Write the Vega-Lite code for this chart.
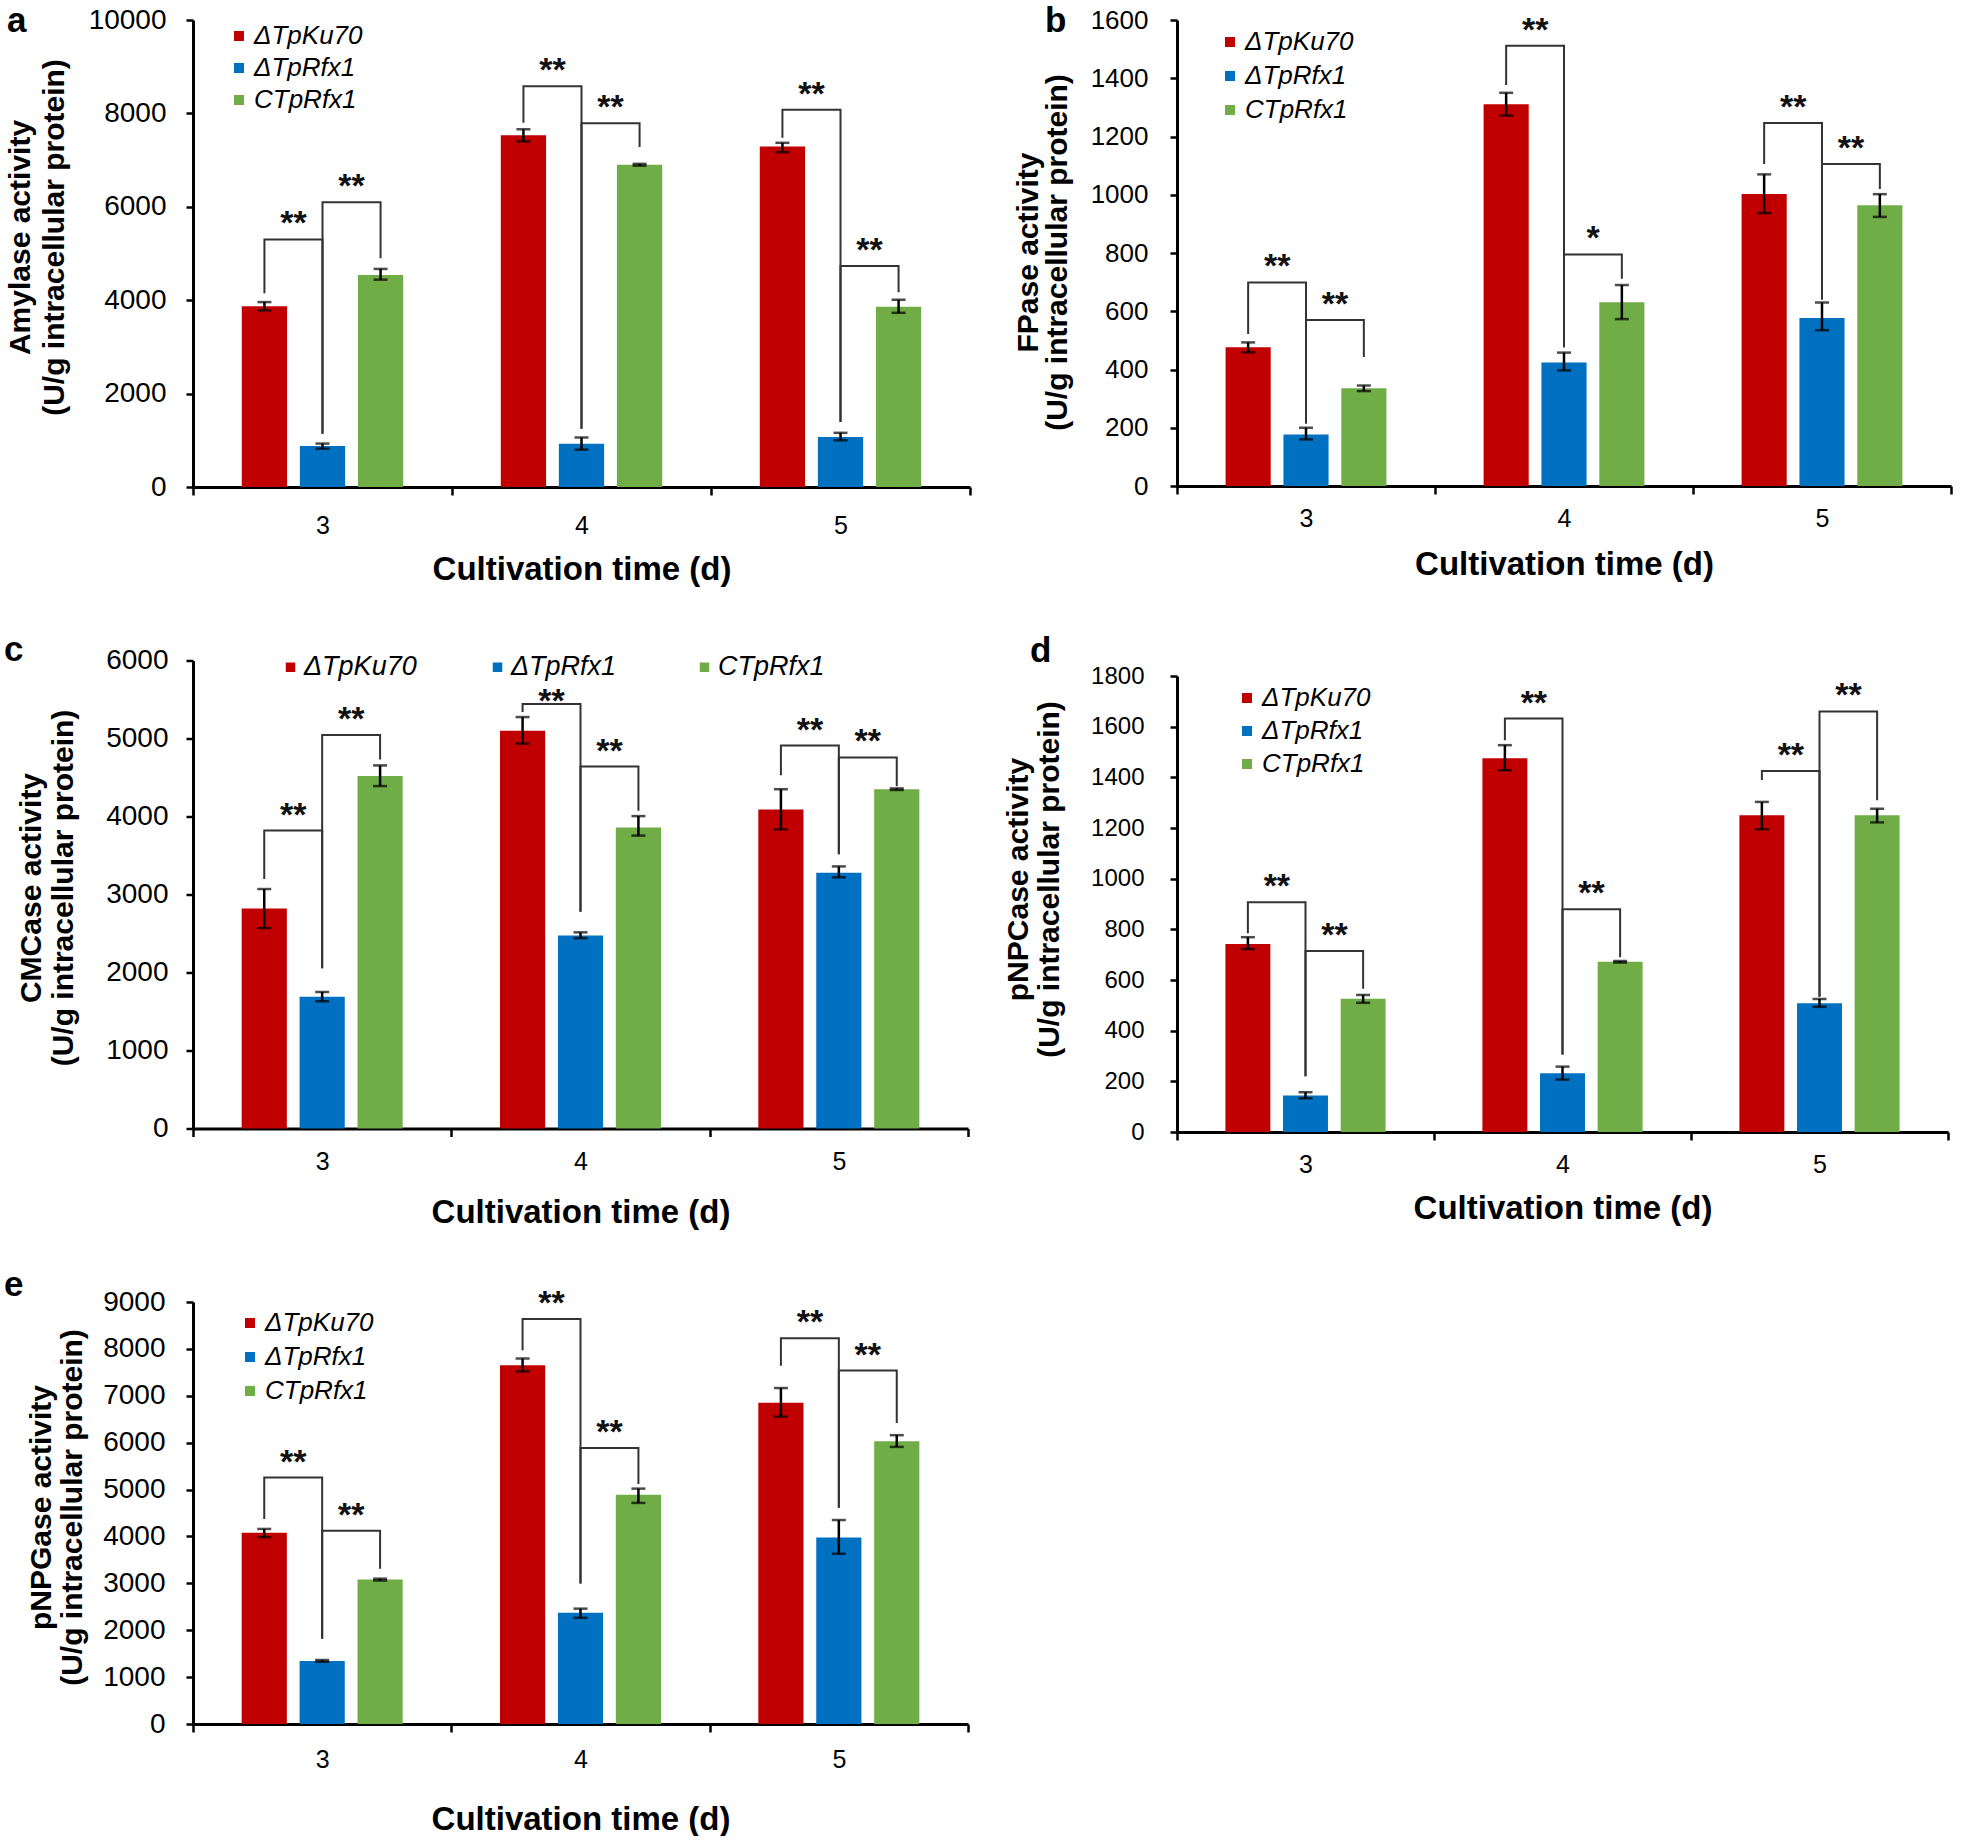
{
  "$schema": "https://vega.github.io/schema/vega-lite/v6.json",
  "padding": {"left": 4, "top": 4, "right": 0, "bottom": 0},
  "background": "white",
  "config": {"view": {"stroke": null}, "font": "Liberation Sans"},
  "datasets": {
    "bars": [
      {"p":"a","day":"3","s":"ΔTpKu70","v":3870,"lo":3780,"hi":3960},
      {"p":"a","day":"3","s":"ΔTpRfx1","v":880,"lo":820,"hi":930},
      {"p":"a","day":"3","s":"CTpRfx1","v":4540,"lo":4440,"hi":4670},
      {"p":"a","day":"4","s":"ΔTpKu70","v":7530,"lo":7400,"hi":7660},
      {"p":"a","day":"4","s":"ΔTpRfx1","v":925,"lo":800,"hi":1060},
      {"p":"a","day":"4","s":"CTpRfx1","v":6900,"lo":6880,"hi":6920},
      {"p":"a","day":"5","s":"ΔTpKu70","v":7290,"lo":7170,"hi":7370},
      {"p":"a","day":"5","s":"ΔTpRfx1","v":1070,"lo":1000,"hi":1160},
      {"p":"a","day":"5","s":"CTpRfx1","v":3860,"lo":3730,"hi":4010},
      {"p":"b","day":"3","s":"ΔTpKu70","v":476,"lo":459,"hi":493},
      {"p":"b","day":"3","s":"ΔTpRfx1","v":177,"lo":160,"hi":200},
      {"p":"b","day":"3","s":"CTpRfx1","v":336,"lo":326,"hi":345},
      {"p":"b","day":"4","s":"ΔTpKu70","v":1311,"lo":1272,"hi":1350},
      {"p":"b","day":"4","s":"ΔTpRfx1","v":424,"lo":397,"hi":458},
      {"p":"b","day":"4","s":"CTpRfx1","v":631,"lo":573,"hi":690},
      {"p":"b","day":"5","s":"ΔTpKu70","v":1003,"lo":937,"hi":1070},
      {"p":"b","day":"5","s":"ΔTpRfx1","v":577,"lo":535,"hi":630},
      {"p":"b","day":"5","s":"CTpRfx1","v":964,"lo":924,"hi":1002},
      {"p":"c","day":"3","s":"ΔTpKu70","v":2820,"lo":2570,"hi":3070},
      {"p":"c","day":"3","s":"ΔTpRfx1","v":1690,"lo":1630,"hi":1750},
      {"p":"c","day":"3","s":"CTpRfx1","v":4520,"lo":4390,"hi":4655},
      {"p":"c","day":"4","s":"ΔTpKu70","v":5100,"lo":4935,"hi":5275},
      {"p":"c","day":"4","s":"ΔTpRfx1","v":2475,"lo":2440,"hi":2515},
      {"p":"c","day":"4","s":"CTpRfx1","v":3860,"lo":3755,"hi":4005},
      {"p":"c","day":"5","s":"ΔTpKu70","v":4090,"lo":3835,"hi":4350},
      {"p":"c","day":"5","s":"ΔTpRfx1","v":3280,"lo":3220,"hi":3360},
      {"p":"c","day":"5","s":"CTpRfx1","v":4350,"lo":4340,"hi":4360},
      {"p":"d","day":"3","s":"ΔTpKu70","v":742,"lo":722,"hi":769},
      {"p":"d","day":"3","s":"ΔTpRfx1","v":144,"lo":133,"hi":157},
      {"p":"d","day":"3","s":"CTpRfx1","v":526,"lo":510,"hi":541},
      {"p":"d","day":"4","s":"ΔTpKu70","v":1475,"lo":1428,"hi":1527},
      {"p":"d","day":"4","s":"ΔTpRfx1","v":232,"lo":207,"hi":258},
      {"p":"d","day":"4","s":"CTpRfx1","v":672,"lo":669,"hi":675},
      {"p":"d","day":"5","s":"ΔTpKu70","v":1250,"lo":1195,"hi":1303},
      {"p":"d","day":"5","s":"ΔTpRfx1","v":508,"lo":494,"hi":525},
      {"p":"d","day":"5","s":"CTpRfx1","v":1250,"lo":1222,"hi":1276},
      {"p":"e","day":"3","s":"ΔTpKu70","v":4080,"lo":3985,"hi":4160},
      {"p":"e","day":"3","s":"ΔTpRfx1","v":1345,"lo":1325,"hi":1365},
      {"p":"e","day":"3","s":"CTpRfx1","v":3080,"lo":3060,"hi":3100},
      {"p":"e","day":"4","s":"ΔTpKu70","v":7650,"lo":7520,"hi":7795},
      {"p":"e","day":"4","s":"ΔTpRfx1","v":2370,"lo":2265,"hi":2460},
      {"p":"e","day":"4","s":"CTpRfx1","v":4890,"lo":4715,"hi":5020},
      {"p":"e","day":"5","s":"ΔTpKu70","v":6850,"lo":6555,"hi":7165},
      {"p":"e","day":"5","s":"ΔTpRfx1","v":3980,"lo":3630,"hi":4350},
      {"p":"e","day":"5","s":"CTpRfx1","v":6030,"lo":5910,"hi":6160}
    ],
    "brackets": [
      {"p":"a","day":"3","id":"a3L","o":1,"s":"ΔTpKu70","y":4150},{"p":"a","day":"3","id":"a3L","o":2,"s":"ΔTpKu70","y":5300},{"p":"a","day":"3","id":"a3L","o":3,"s":"ΔTpRfx1","y":5300},{"p":"a","day":"3","id":"a3L","o":4,"s":"ΔTpRfx1","y":1140},
      {"p":"a","day":"3","id":"a3R","o":1,"s":"ΔTpRfx1","y":1140},{"p":"a","day":"3","id":"a3R","o":2,"s":"ΔTpRfx1","y":6100},{"p":"a","day":"3","id":"a3R","o":3,"s":"CTpRfx1","y":6100},{"p":"a","day":"3","id":"a3R","o":4,"s":"CTpRfx1","y":4900},
      {"p":"a","day":"4","id":"a4L","o":1,"s":"ΔTpKu70","y":7800},{"p":"a","day":"4","id":"a4L","o":2,"s":"ΔTpKu70","y":8580},{"p":"a","day":"4","id":"a4L","o":3,"s":"ΔTpRfx1","y":8580},{"p":"a","day":"4","id":"a4L","o":4,"s":"ΔTpRfx1","y":1250},
      {"p":"a","day":"4","id":"a4R","o":1,"s":"ΔTpRfx1","y":1250},{"p":"a","day":"4","id":"a4R","o":2,"s":"ΔTpRfx1","y":7790},{"p":"a","day":"4","id":"a4R","o":3,"s":"CTpRfx1","y":7790},{"p":"a","day":"4","id":"a4R","o":4,"s":"CTpRfx1","y":7280},
      {"p":"a","day":"5","id":"a5L","o":1,"s":"ΔTpKu70","y":7480},{"p":"a","day":"5","id":"a5L","o":2,"s":"ΔTpKu70","y":8080},{"p":"a","day":"5","id":"a5L","o":3,"s":"ΔTpRfx1","y":8080},{"p":"a","day":"5","id":"a5L","o":4,"s":"ΔTpRfx1","y":1390},
      {"p":"a","day":"5","id":"a5R","o":1,"s":"ΔTpRfx1","y":1390},{"p":"a","day":"5","id":"a5R","o":2,"s":"ΔTpRfx1","y":4730},{"p":"a","day":"5","id":"a5R","o":3,"s":"CTpRfx1","y":4730},{"p":"a","day":"5","id":"a5R","o":4,"s":"CTpRfx1","y":4170},
      {"p":"b","day":"3","id":"b3L","o":1,"s":"ΔTpKu70","y":522},{"p":"b","day":"3","id":"b3L","o":2,"s":"ΔTpKu70","y":699},{"p":"b","day":"3","id":"b3L","o":3,"s":"ΔTpRfx1","y":699},{"p":"b","day":"3","id":"b3L","o":4,"s":"ΔTpRfx1","y":215},
      {"p":"b","day":"3","id":"b3R","o":1,"s":"ΔTpRfx1","y":215},{"p":"b","day":"3","id":"b3R","o":2,"s":"ΔTpRfx1","y":570},{"p":"b","day":"3","id":"b3R","o":3,"s":"CTpRfx1","y":570},{"p":"b","day":"3","id":"b3R","o":4,"s":"CTpRfx1","y":443},
      {"p":"b","day":"4","id":"b4L","o":1,"s":"ΔTpKu70","y":1377},{"p":"b","day":"4","id":"b4L","o":2,"s":"ΔTpKu70","y":1512},{"p":"b","day":"4","id":"b4L","o":3,"s":"ΔTpRfx1","y":1512},{"p":"b","day":"4","id":"b4L","o":4,"s":"ΔTpRfx1","y":476},
      {"p":"b","day":"4","id":"b4R","o":1,"s":"ΔTpRfx1","y":476},{"p":"b","day":"4","id":"b4R","o":2,"s":"ΔTpRfx1","y":795},{"p":"b","day":"4","id":"b4R","o":3,"s":"CTpRfx1","y":795},{"p":"b","day":"4","id":"b4R","o":4,"s":"CTpRfx1","y":712},
      {"p":"b","day":"5","id":"b5L","o":1,"s":"ΔTpKu70","y":1106},{"p":"b","day":"5","id":"b5L","o":2,"s":"ΔTpKu70","y":1246},{"p":"b","day":"5","id":"b5L","o":3,"s":"ΔTpRfx1","y":1246},{"p":"b","day":"5","id":"b5L","o":4,"s":"ΔTpRfx1","y":640},
      {"p":"b","day":"5","id":"b5R","o":1,"s":"ΔTpRfx1","y":640},{"p":"b","day":"5","id":"b5R","o":2,"s":"ΔTpRfx1","y":1106},{"p":"b","day":"5","id":"b5R","o":3,"s":"CTpRfx1","y":1106},{"p":"b","day":"5","id":"b5R","o":4,"s":"CTpRfx1","y":1020},
      {"p":"c","day":"3","id":"c3L","o":1,"s":"ΔTpKu70","y":3200},{"p":"c","day":"3","id":"c3L","o":2,"s":"ΔTpKu70","y":3820},{"p":"c","day":"3","id":"c3L","o":3,"s":"ΔTpRfx1","y":3820},{"p":"c","day":"3","id":"c3L","o":4,"s":"ΔTpRfx1","y":2054},
      {"p":"c","day":"3","id":"c3R","o":1,"s":"ΔTpRfx1","y":2054},{"p":"c","day":"3","id":"c3R","o":2,"s":"ΔTpRfx1","y":5046},{"p":"c","day":"3","id":"c3R","o":3,"s":"CTpRfx1","y":5046},{"p":"c","day":"3","id":"c3R","o":4,"s":"CTpRfx1","y":4732},
      {"p":"c","day":"4","id":"c4L","o":1,"s":"ΔTpKu70","y":5341},{"p":"c","day":"4","id":"c4L","o":2,"s":"ΔTpKu70","y":5442},{"p":"c","day":"4","id":"c4L","o":3,"s":"ΔTpRfx1","y":5442},{"p":"c","day":"4","id":"c4L","o":4,"s":"ΔTpRfx1","y":2779},
      {"p":"c","day":"4","id":"c4R","o":1,"s":"ΔTpRfx1","y":2779},{"p":"c","day":"4","id":"c4R","o":2,"s":"ΔTpRfx1","y":4641},{"p":"c","day":"4","id":"c4R","o":3,"s":"CTpRfx1","y":4641},{"p":"c","day":"4","id":"c4R","o":4,"s":"CTpRfx1","y":4073},
      {"p":"c","day":"5","id":"c5L","o":1,"s":"ΔTpKu70","y":4529},{"p":"c","day":"5","id":"c5L","o":2,"s":"ΔTpKu70","y":4910},{"p":"c","day":"5","id":"c5L","o":3,"s":"ΔTpRfx1","y":4910},{"p":"c","day":"5","id":"c5L","o":4,"s":"ΔTpRfx1","y":3515},
      {"p":"c","day":"5","id":"c5R","o":1,"s":"ΔTpRfx1","y":3515},{"p":"c","day":"5","id":"c5R","o":2,"s":"ΔTpRfx1","y":4757},{"p":"c","day":"5","id":"c5R","o":3,"s":"CTpRfx1","y":4757},{"p":"c","day":"5","id":"c5R","o":4,"s":"CTpRfx1","y":4387},
      {"p":"d","day":"3","id":"d3L","o":1,"s":"ΔTpKu70","y":785},{"p":"d","day":"3","id":"d3L","o":2,"s":"ΔTpKu70","y":907},{"p":"d","day":"3","id":"d3L","o":3,"s":"ΔTpRfx1","y":907},{"p":"d","day":"3","id":"d3L","o":4,"s":"ΔTpRfx1","y":220},
      {"p":"d","day":"3","id":"d3R","o":1,"s":"ΔTpRfx1","y":220},{"p":"d","day":"3","id":"d3R","o":2,"s":"ΔTpRfx1","y":714},{"p":"d","day":"3","id":"d3R","o":3,"s":"CTpRfx1","y":714},{"p":"d","day":"3","id":"d3R","o":4,"s":"CTpRfx1","y":565},
      {"p":"d","day":"4","id":"d4L","o":1,"s":"ΔTpKu70","y":1546},{"p":"d","day":"4","id":"d4L","o":2,"s":"ΔTpKu70","y":1632},{"p":"d","day":"4","id":"d4L","o":3,"s":"ΔTpRfx1","y":1632},{"p":"d","day":"4","id":"d4L","o":4,"s":"ΔTpRfx1","y":306},
      {"p":"d","day":"4","id":"d4R","o":1,"s":"ΔTpRfx1","y":306},{"p":"d","day":"4","id":"d4R","o":2,"s":"ΔTpRfx1","y":879},{"p":"d","day":"4","id":"d4R","o":3,"s":"CTpRfx1","y":879},{"p":"d","day":"4","id":"d4R","o":4,"s":"CTpRfx1","y":690},
      {"p":"d","day":"5","id":"d5L","o":1,"s":"ΔTpKu70","y":1389},{"p":"d","day":"5","id":"d5L","o":2,"s":"ΔTpKu70","y":1425},{"p":"d","day":"5","id":"d5L","o":3,"s":"ΔTpRfx1","y":1425},{"p":"d","day":"5","id":"d5L","o":4,"s":"ΔTpRfx1","y":534},
      {"p":"d","day":"5","id":"d5R","o":1,"s":"ΔTpRfx1","y":534},{"p":"d","day":"5","id":"d5R","o":2,"s":"ΔTpRfx1","y":1660},{"p":"d","day":"5","id":"d5R","o":3,"s":"CTpRfx1","y":1660},{"p":"d","day":"5","id":"d5R","o":4,"s":"CTpRfx1","y":1310},
      {"p":"e","day":"3","id":"e3L","o":1,"s":"ΔTpKu70","y":4374},{"p":"e","day":"3","id":"e3L","o":2,"s":"ΔTpKu70","y":5255},{"p":"e","day":"3","id":"e3L","o":3,"s":"ΔTpRfx1","y":5255},{"p":"e","day":"3","id":"e3L","o":4,"s":"ΔTpRfx1","y":1817},
      {"p":"e","day":"3","id":"e3R","o":1,"s":"ΔTpRfx1","y":1817},{"p":"e","day":"3","id":"e3R","o":2,"s":"ΔTpRfx1","y":4122},{"p":"e","day":"3","id":"e3R","o":3,"s":"CTpRfx1","y":4122},{"p":"e","day":"3","id":"e3R","o":4,"s":"CTpRfx1","y":3312},
      {"p":"e","day":"4","id":"e4L","o":1,"s":"ΔTpKu70","y":7970},{"p":"e","day":"4","id":"e4L","o":2,"s":"ΔTpKu70","y":8638},{"p":"e","day":"4","id":"e4L","o":3,"s":"ΔTpRfx1","y":8638},{"p":"e","day":"4","id":"e4L","o":4,"s":"ΔTpRfx1","y":2997},
      {"p":"e","day":"4","id":"e4R","o":1,"s":"ΔTpRfx1","y":2997},{"p":"e","day":"4","id":"e4R","o":2,"s":"ΔTpRfx1","y":5885},{"p":"e","day":"4","id":"e4R","o":3,"s":"CTpRfx1","y":5885},{"p":"e","day":"4","id":"e4R","o":4,"s":"CTpRfx1","y":5121},
      {"p":"e","day":"5","id":"e5L","o":1,"s":"ΔTpKu70","y":7639},{"p":"e","day":"5","id":"e5L","o":2,"s":"ΔTpKu70","y":8229},{"p":"e","day":"5","id":"e5L","o":3,"s":"ΔTpRfx1","y":8229},{"p":"e","day":"5","id":"e5L","o":4,"s":"ΔTpRfx1","y":4610},
      {"p":"e","day":"5","id":"e5R","o":1,"s":"ΔTpRfx1","y":4610},{"p":"e","day":"5","id":"e5R","o":2,"s":"ΔTpRfx1","y":7537},{"p":"e","day":"5","id":"e5R","o":3,"s":"CTpRfx1","y":7537},{"p":"e","day":"5","id":"e5R","o":4,"s":"CTpRfx1","y":6420}
    ],
    "stars": [
      {"p":"a","day":"3","s":"ΔTpKu70","y":5300,"t":"**"},{"p":"a","day":"3","s":"ΔTpRfx1","y":6100,"t":"**"},
      {"p":"a","day":"4","s":"ΔTpKu70","y":8580,"t":"**"},{"p":"a","day":"4","s":"ΔTpRfx1","y":7790,"t":"**"},
      {"p":"a","day":"5","s":"ΔTpKu70","y":8080,"t":"**"},{"p":"a","day":"5","s":"ΔTpRfx1","y":4730,"t":"**"},
      {"p":"b","day":"3","s":"ΔTpKu70","y":699,"t":"**"},{"p":"b","day":"3","s":"ΔTpRfx1","y":570,"t":"**"},
      {"p":"b","day":"4","s":"ΔTpKu70","y":1512,"t":"**"},{"p":"b","day":"4","s":"ΔTpRfx1","y":795,"t":"*"},
      {"p":"b","day":"5","s":"ΔTpKu70","y":1246,"t":"**"},{"p":"b","day":"5","s":"ΔTpRfx1","y":1106,"t":"**"},
      {"p":"c","day":"3","s":"ΔTpKu70","y":3820,"t":"**"},{"p":"c","day":"3","s":"ΔTpRfx1","y":5046,"t":"**"},
      {"p":"c","day":"4","s":"ΔTpKu70","y":5280,"t":"**"},{"p":"c","day":"4","s":"ΔTpRfx1","y":4641,"t":"**"},
      {"p":"c","day":"5","s":"ΔTpKu70","y":4910,"t":"**"},{"p":"c","day":"5","s":"ΔTpRfx1","y":4757,"t":"**"},
      {"p":"d","day":"3","s":"ΔTpKu70","y":907,"t":"**"},{"p":"d","day":"3","s":"ΔTpRfx1","y":714,"t":"**"},
      {"p":"d","day":"4","s":"ΔTpKu70","y":1632,"t":"**"},{"p":"d","day":"4","s":"ΔTpRfx1","y":879,"t":"**"},
      {"p":"d","day":"5","s":"ΔTpKu70","y":1425,"t":"**"},{"p":"d","day":"5","s":"ΔTpRfx1","y":1660,"t":"**"},
      {"p":"e","day":"3","s":"ΔTpKu70","y":5255,"t":"**"},{"p":"e","day":"3","s":"ΔTpRfx1","y":4122,"t":"**"},
      {"p":"e","day":"4","s":"ΔTpKu70","y":8638,"t":"**"},{"p":"e","day":"4","s":"ΔTpRfx1","y":5885,"t":"**"},
      {"p":"e","day":"5","s":"ΔTpKu70","y":8229,"t":"**"},{"p":"e","day":"5","s":"ΔTpRfx1","y":7537,"t":"**"}
    ]
  },
  "spacing": 30,
  "resolve": {"scale": {"color": "independent", "xOffset": "independent"}, "legend": {"color": "independent"}},
  "hconcat": [
    {
      "bounds": "flush",
      "spacing": 173.5,
      "resolve": {"scale": {"color": "independent", "xOffset": "independent"}, "legend": {"color": "independent"}},
      "vconcat": [
        {
          "width": 777, "height": 467,
          "title": {"text": "a", "anchor": "start", "frame": "group", "orient": "top", "offset": 0, "dx": -186, "dy": 61, "baseline": "alphabetic", "fontSize": 35, "fontWeight": "bold", "font": "Liberation Sans", "color": "#000"},
          "layer": [
            {"data": {"name": "bars"}, "transform": [{"filter": "datum.p === 'a'"}],
             "mark": {"type": "bar"},
             "encoding": {
               "x": {"field": "day", "type": "ordinal", "scale": {"paddingInner": 0, "paddingOuter": 0},
                     "axis": {"title": "Cultivation time (d)", "titleFont": "Liberation Sans", "titleFontSize": 33, "titleFontWeight": "bold", "titleColor": "#000", "titleY": 82, "titleBaseline": "middle", "labelAngle": 0, "labelFont": "Liberation Sans", "labelFontSize": 25, "labelColor": "#000", "labelPadding": 18, "tickBand": "extent", "tickSize": 8, "tickWidth": 2.5, "tickColor": "#000", "domainColor": "#000", "domainWidth": 3, "grid": false}},
               "xOffset": {"field": "s", "type": "nominal", "scale": {"domain": ["ΔTpKu70", "ΔTpRfx1", "CTpRfx1"], "paddingInner": 0.22, "paddingOuter": 0.84}},
               "y": {"field": "v", "type": "quantitative", "scale": {"domain": [0, 10000], "nice": false},
                     "axis": {"title": ["Amylase activity", "(U/g intracellular protein)"], "titleFont": "Liberation Sans", "titleFontSize": 30, "titleFontWeight": "bold", "titleColor": "#000", "titleX": -173, "titleY": 217, "titleAlign": "center", "titleBaseline": "middle", "titleAngle": -90, "titleLineHeight": 34, "values": [0, 2000, 4000, 6000, 8000, 10000], "format": "d", "labelFont": "Liberation Sans", "labelFontSize": 28, "labelColor": "#000", "labelPadding": 20, "labelOverlap": false, "tickSize": 7, "tickWidth": 2.5, "tickColor": "#000", "domainColor": "#000", "domainWidth": 3, "grid": false}},
               "color": {"field": "s", "type": "nominal", "scale": {"domain": ["ΔTpKu70", "ΔTpRfx1", "CTpRfx1"], "range": ["#C00000", "#0070C0", "#70AD47"]},
                         "legend": {"title": null, "orient": "none", "legendX": 33, "legendY": 3, "direction": "vertical", "symbolType": "square", "symbolSize": 100, "symbolStrokeWidth": 0, "labelFont": "Liberation Sans", "labelFontSize": 26, "labelFontStyle": "italic", "labelColor": "#000", "labelOffset": 2, "rowPadding": 6, "padding": 0}}
             }},
            {"data": {"name": "bars"}, "transform": [{"filter": "datum.p === 'a'"}],
             "mark": {"type": "rule", "color": "#000", "strokeWidth": 2.5},
             "encoding": {"x": {"field": "day", "type": "ordinal"}, "xOffset": {"field": "s", "type": "nominal"}, "y": {"field": "lo", "type": "quantitative"}, "y2": {"field": "hi"}}},
            {"data": {"name": "bars"}, "transform": [{"filter": "datum.p === 'a'"}],
             "mark": {"type": "tick", "color": "#000", "thickness": 2.5, "size": 14, "orient": "horizontal"},
             "encoding": {"x": {"field": "day", "type": "ordinal"}, "xOffset": {"field": "s", "type": "nominal"}, "y": {"field": "lo", "type": "quantitative"}}},
            {"data": {"name": "bars"}, "transform": [{"filter": "datum.p === 'a'"}],
             "mark": {"type": "tick", "color": "#000", "thickness": 2.5, "size": 14, "orient": "horizontal"},
             "encoding": {"x": {"field": "day", "type": "ordinal"}, "xOffset": {"field": "s", "type": "nominal"}, "y": {"field": "hi", "type": "quantitative"}}},
            {"data": {"name": "brackets"}, "transform": [{"filter": "datum.p === 'a'"}],
             "mark": {"type": "line", "color": "#333", "strokeWidth": 2},
             "encoding": {"x": {"field": "day", "type": "ordinal"}, "xOffset": {"field": "s", "type": "nominal"}, "y": {"field": "y", "type": "quantitative"}, "detail": {"field": "id"}, "order": {"field": "o"}}},
            {"data": {"name": "stars"}, "transform": [{"filter": "datum.p === 'a'"}],
             "mark": {"type": "text", "dx": 29, "dy": -5, "fontSize": 34, "fontWeight": "bold", "font": "Liberation Sans", "color": "#111", "baseline": "alphabetic", "align": "center"},
             "encoding": {"x": {"field": "day", "type": "ordinal"}, "xOffset": {"field": "s", "type": "nominal"}, "y": {"field": "y", "type": "quantitative"}, "text": {"field": "t"}}}
          ]
        },
        {
          "width": 775, "height": 468,
          "title": {"text": "c", "anchor": "start", "frame": "group", "orient": "top", "offset": 0, "dx": -189, "dy": 49.5, "baseline": "alphabetic", "fontSize": 35, "fontWeight": "bold", "font": "Liberation Sans", "color": "#000"},
          "layer": [
            {"data": {"name": "bars"}, "transform": [{"filter": "datum.p === 'c'"}],
             "mark": {"type": "bar"},
             "encoding": {
               "x": {"field": "day", "type": "ordinal", "scale": {"paddingInner": 0, "paddingOuter": 0},
                     "axis": {"title": "Cultivation time (d)", "titleFont": "Liberation Sans", "titleFontSize": 33, "titleFontWeight": "bold", "titleColor": "#000", "titleY": 84, "titleBaseline": "middle", "labelAngle": 0, "labelFont": "Liberation Sans", "labelFontSize": 25, "labelColor": "#000", "labelPadding": 13, "tickBand": "extent", "tickSize": 8, "tickWidth": 2.5, "tickColor": "#000", "domainColor": "#000", "domainWidth": 3, "grid": false}},
               "xOffset": {"field": "s", "type": "nominal", "scale": {"domain": ["ΔTpKu70", "ΔTpRfx1", "CTpRfx1"], "paddingInner": 0.22, "paddingOuter": 0.84}},
               "y": {"field": "v", "type": "quantitative", "scale": {"domain": [0, 6000], "nice": false},
                     "axis": {"title": ["CMCase activity", "(U/g intracellular protein)"], "titleFont": "Liberation Sans", "titleFontSize": 30, "titleFontWeight": "bold", "titleColor": "#000", "titleX": -162, "titleY": 227, "titleAlign": "center", "titleBaseline": "middle", "titleAngle": -90, "titleLineHeight": 32, "values": [0, 1000, 2000, 3000, 4000, 5000, 6000], "format": "d", "labelFont": "Liberation Sans", "labelFontSize": 28, "labelColor": "#000", "labelPadding": 18, "labelOverlap": false, "tickSize": 7, "tickWidth": 2.5, "tickColor": "#000", "domainColor": "#000", "domainWidth": 3, "grid": false}},
               "color": {"field": "s", "type": "nominal", "scale": {"domain": ["ΔTpKu70", "ΔTpRfx1", "CTpRfx1"], "range": ["#C00000", "#0070C0", "#70AD47"]},
                         "legend": {"title": null, "orient": "none", "legendX": 84, "legendY": -7, "direction": "horizontal", "columns": 3, "gridAlign": "all", "columnPadding": 67, "symbolType": "square", "symbolSize": 90, "symbolStrokeWidth": 0, "labelFont": "Liberation Sans", "labelFontSize": 27, "labelFontStyle": "italic", "labelColor": "#000", "labelOffset": 0, "padding": 0}}
             }},
            {"data": {"name": "bars"}, "transform": [{"filter": "datum.p === 'c'"}],
             "mark": {"type": "rule", "color": "#000", "strokeWidth": 2.5},
             "encoding": {"x": {"field": "day", "type": "ordinal"}, "xOffset": {"field": "s", "type": "nominal"}, "y": {"field": "lo", "type": "quantitative"}, "y2": {"field": "hi"}}},
            {"data": {"name": "bars"}, "transform": [{"filter": "datum.p === 'c'"}],
             "mark": {"type": "tick", "color": "#000", "thickness": 2.5, "size": 14, "orient": "horizontal"},
             "encoding": {"x": {"field": "day", "type": "ordinal"}, "xOffset": {"field": "s", "type": "nominal"}, "y": {"field": "lo", "type": "quantitative"}}},
            {"data": {"name": "bars"}, "transform": [{"filter": "datum.p === 'c'"}],
             "mark": {"type": "tick", "color": "#000", "thickness": 2.5, "size": 14, "orient": "horizontal"},
             "encoding": {"x": {"field": "day", "type": "ordinal"}, "xOffset": {"field": "s", "type": "nominal"}, "y": {"field": "hi", "type": "quantitative"}}},
            {"data": {"name": "brackets"}, "transform": [{"filter": "datum.p === 'c'"}],
             "mark": {"type": "line", "color": "#333", "strokeWidth": 2},
             "encoding": {"x": {"field": "day", "type": "ordinal"}, "xOffset": {"field": "s", "type": "nominal"}, "y": {"field": "y", "type": "quantitative"}, "detail": {"field": "id"}, "order": {"field": "o"}}},
            {"data": {"name": "stars"}, "transform": [{"filter": "datum.p === 'c'"}],
             "mark": {"type": "text", "dx": 29, "dy": -5, "fontSize": 34, "fontWeight": "bold", "font": "Liberation Sans", "color": "#111", "baseline": "alphabetic", "align": "center"},
             "encoding": {"x": {"field": "day", "type": "ordinal"}, "xOffset": {"field": "s", "type": "nominal"}, "y": {"field": "y", "type": "quantitative"}, "text": {"field": "t"}}}
          ]
        },
        {
          "width": 775, "height": 422,
          "title": {"text": "e", "anchor": "start", "frame": "group", "orient": "top", "offset": 0, "dx": -189, "dy": 44, "baseline": "alphabetic", "fontSize": 35, "fontWeight": "bold", "font": "Liberation Sans", "color": "#000"},
          "layer": [
            {"data": {"name": "bars"}, "transform": [{"filter": "datum.p === 'e'"}],
             "mark": {"type": "bar"},
             "encoding": {
               "x": {"field": "day", "type": "ordinal", "scale": {"paddingInner": 0, "paddingOuter": 0},
                     "axis": {"title": "Cultivation time (d)", "titleFont": "Liberation Sans", "titleFontSize": 33, "titleFontWeight": "bold", "titleColor": "#000", "titleY": 95, "titleBaseline": "middle", "labelAngle": 0, "labelFont": "Liberation Sans", "labelFontSize": 25, "labelColor": "#000", "labelPadding": 15.5, "tickBand": "extent", "tickSize": 8, "tickWidth": 2.5, "tickColor": "#000", "domainColor": "#000", "domainWidth": 3, "grid": false}},
               "xOffset": {"field": "s", "type": "nominal", "scale": {"domain": ["ΔTpKu70", "ΔTpRfx1", "CTpRfx1"], "paddingInner": 0.22, "paddingOuter": 0.84}},
               "y": {"field": "v", "type": "quantitative", "scale": {"domain": [0, 9000], "nice": false},
                     "axis": {"title": ["pNPGase activity", "(U/g intracellular protein)"], "titleFont": "Liberation Sans", "titleFontSize": 30, "titleFontWeight": "bold", "titleColor": "#000", "titleX": -152, "titleY": 205, "titleAlign": "center", "titleBaseline": "middle", "titleAngle": -90, "titleLineHeight": 31, "values": [0, 1000, 2000, 3000, 4000, 5000, 6000, 7000, 8000, 9000], "format": "d", "labelFont": "Liberation Sans", "labelFontSize": 28, "labelColor": "#000", "labelPadding": 21, "labelOverlap": false, "tickSize": 7, "tickWidth": 2.5, "tickColor": "#000", "domainColor": "#000", "domainWidth": 3, "grid": false}},
               "color": {"field": "s", "type": "nominal", "scale": {"domain": ["ΔTpKu70", "ΔTpRfx1", "CTpRfx1"], "range": ["#C00000", "#0070C0", "#70AD47"]},
                         "legend": {"title": null, "orient": "none", "legendX": 44, "legendY": 8, "direction": "vertical", "symbolType": "square", "symbolSize": 100, "symbolStrokeWidth": 0, "labelFont": "Liberation Sans", "labelFontSize": 26, "labelFontStyle": "italic", "labelColor": "#000", "labelOffset": 2, "rowPadding": 8, "padding": 0}}
             }},
            {"data": {"name": "bars"}, "transform": [{"filter": "datum.p === 'e'"}],
             "mark": {"type": "rule", "color": "#000", "strokeWidth": 2.5},
             "encoding": {"x": {"field": "day", "type": "ordinal"}, "xOffset": {"field": "s", "type": "nominal"}, "y": {"field": "lo", "type": "quantitative"}, "y2": {"field": "hi"}}},
            {"data": {"name": "bars"}, "transform": [{"filter": "datum.p === 'e'"}],
             "mark": {"type": "tick", "color": "#000", "thickness": 2.5, "size": 14, "orient": "horizontal"},
             "encoding": {"x": {"field": "day", "type": "ordinal"}, "xOffset": {"field": "s", "type": "nominal"}, "y": {"field": "lo", "type": "quantitative"}}},
            {"data": {"name": "bars"}, "transform": [{"filter": "datum.p === 'e'"}],
             "mark": {"type": "tick", "color": "#000", "thickness": 2.5, "size": 14, "orient": "horizontal"},
             "encoding": {"x": {"field": "day", "type": "ordinal"}, "xOffset": {"field": "s", "type": "nominal"}, "y": {"field": "hi", "type": "quantitative"}}},
            {"data": {"name": "brackets"}, "transform": [{"filter": "datum.p === 'e'"}],
             "mark": {"type": "line", "color": "#333", "strokeWidth": 2},
             "encoding": {"x": {"field": "day", "type": "ordinal"}, "xOffset": {"field": "s", "type": "nominal"}, "y": {"field": "y", "type": "quantitative"}, "detail": {"field": "id"}, "order": {"field": "o"}}},
            {"data": {"name": "stars"}, "transform": [{"filter": "datum.p === 'e'"}],
             "mark": {"type": "text", "dx": 29, "dy": -5, "fontSize": 34, "fontWeight": "bold", "font": "Liberation Sans", "color": "#111", "baseline": "alphabetic", "align": "center"},
             "encoding": {"x": {"field": "day", "type": "ordinal"}, "xOffset": {"field": "s", "type": "nominal"}, "y": {"field": "y", "type": "quantitative"}, "text": {"field": "t"}}}
          ]
        }
      ]
    },
    {
      "bounds": "flush",
      "spacing": 190,
      "resolve": {"scale": {"color": "independent", "xOffset": "independent"}, "legend": {"color": "independent"}},
      "vconcat": [
        {
          "width": 774, "height": 466,
          "title": {"text": "b", "anchor": "start", "frame": "group", "orient": "top", "offset": 0, "dx": -132, "dy": 60, "baseline": "alphabetic", "fontSize": 35, "fontWeight": "bold", "font": "Liberation Sans", "color": "#000"},
          "layer": [
            {"data": {"name": "bars"}, "transform": [{"filter": "datum.p === 'b'"}],
             "mark": {"type": "bar"},
             "encoding": {
               "x": {"field": "day", "type": "ordinal", "scale": {"paddingInner": 0, "paddingOuter": 0},
                     "axis": {"title": "Cultivation time (d)", "titleFont": "Liberation Sans", "titleFontSize": 33, "titleFontWeight": "bold", "titleColor": "#000", "titleY": 78, "titleBaseline": "middle", "labelAngle": 0, "labelFont": "Liberation Sans", "labelFontSize": 25, "labelColor": "#000", "labelPadding": 12, "tickBand": "extent", "tickSize": 8, "tickWidth": 2.5, "tickColor": "#000", "domainColor": "#000", "domainWidth": 3, "grid": false}},
               "xOffset": {"field": "s", "type": "nominal", "scale": {"domain": ["ΔTpKu70", "ΔTpRfx1", "CTpRfx1"], "paddingInner": 0.22, "paddingOuter": 0.84}},
               "y": {"field": "v", "type": "quantitative", "scale": {"domain": [0, 1600], "nice": false},
                     "axis": {"title": ["FPase activity", "(U/g intracellular protein)"], "titleFont": "Liberation Sans", "titleFontSize": 30, "titleFontWeight": "bold", "titleColor": "#000", "titleX": -149, "titleY": 232, "titleAlign": "center", "titleBaseline": "middle", "titleAngle": -90, "titleLineHeight": 29, "values": [0, 200, 400, 600, 800, 1000, 1200, 1400, 1600], "format": "d", "labelFont": "Liberation Sans", "labelFontSize": 26, "labelColor": "#000", "labelPadding": 22, "labelOverlap": false, "tickSize": 7, "tickWidth": 2.5, "tickColor": "#000", "domainColor": "#000", "domainWidth": 3, "grid": false}},
               "color": {"field": "s", "type": "nominal", "scale": {"domain": ["ΔTpKu70", "ΔTpRfx1", "CTpRfx1"], "range": ["#C00000", "#0070C0", "#70AD47"]},
                         "legend": {"title": null, "orient": "none", "legendX": 40, "legendY": 9, "direction": "vertical", "symbolType": "square", "symbolSize": 100, "symbolStrokeWidth": 0, "labelFont": "Liberation Sans", "labelFontSize": 26, "labelFontStyle": "italic", "labelColor": "#000", "labelOffset": 2, "rowPadding": 8, "padding": 0}}
             }},
            {"data": {"name": "bars"}, "transform": [{"filter": "datum.p === 'b'"}],
             "mark": {"type": "rule", "color": "#000", "strokeWidth": 2.5},
             "encoding": {"x": {"field": "day", "type": "ordinal"}, "xOffset": {"field": "s", "type": "nominal"}, "y": {"field": "lo", "type": "quantitative"}, "y2": {"field": "hi"}}},
            {"data": {"name": "bars"}, "transform": [{"filter": "datum.p === 'b'"}],
             "mark": {"type": "tick", "color": "#000", "thickness": 2.5, "size": 14, "orient": "horizontal"},
             "encoding": {"x": {"field": "day", "type": "ordinal"}, "xOffset": {"field": "s", "type": "nominal"}, "y": {"field": "lo", "type": "quantitative"}}},
            {"data": {"name": "bars"}, "transform": [{"filter": "datum.p === 'b'"}],
             "mark": {"type": "tick", "color": "#000", "thickness": 2.5, "size": 14, "orient": "horizontal"},
             "encoding": {"x": {"field": "day", "type": "ordinal"}, "xOffset": {"field": "s", "type": "nominal"}, "y": {"field": "hi", "type": "quantitative"}}},
            {"data": {"name": "brackets"}, "transform": [{"filter": "datum.p === 'b'"}],
             "mark": {"type": "line", "color": "#333", "strokeWidth": 2},
             "encoding": {"x": {"field": "day", "type": "ordinal"}, "xOffset": {"field": "s", "type": "nominal"}, "y": {"field": "y", "type": "quantitative"}, "detail": {"field": "id"}, "order": {"field": "o"}}},
            {"data": {"name": "stars"}, "transform": [{"filter": "datum.p === 'b'"}],
             "mark": {"type": "text", "dx": 29, "dy": -5, "fontSize": 34, "fontWeight": "bold", "font": "Liberation Sans", "color": "#111", "baseline": "alphabetic", "align": "center"},
             "encoding": {"x": {"field": "day", "type": "ordinal"}, "xOffset": {"field": "s", "type": "nominal"}, "y": {"field": "y", "type": "quantitative"}, "text": {"field": "t"}}}
          ]
        },
        {
          "width": 771, "height": 456,
          "title": {"text": "d", "anchor": "start", "frame": "group", "orient": "top", "offset": 0, "dx": -147, "dy": 33, "baseline": "alphabetic", "fontSize": 35, "fontWeight": "bold", "font": "Liberation Sans", "color": "#000"},
          "layer": [
            {"data": {"name": "bars"}, "transform": [{"filter": "datum.p === 'd'"}],
             "mark": {"type": "bar"},
             "encoding": {
               "x": {"field": "day", "type": "ordinal", "scale": {"paddingInner": 0, "paddingOuter": 0},
                     "axis": {"title": "Cultivation time (d)", "titleFont": "Liberation Sans", "titleFontSize": 33, "titleFontWeight": "bold", "titleColor": "#000", "titleY": 76, "titleBaseline": "middle", "labelAngle": 0, "labelFont": "Liberation Sans", "labelFontSize": 25, "labelColor": "#000", "labelPadding": 12, "tickBand": "extent", "tickSize": 8, "tickWidth": 2.5, "tickColor": "#000", "domainColor": "#000", "domainWidth": 3, "grid": false}},
               "xOffset": {"field": "s", "type": "nominal", "scale": {"domain": ["ΔTpKu70", "ΔTpRfx1", "CTpRfx1"], "paddingInner": 0.22, "paddingOuter": 0.84}},
               "y": {"field": "v", "type": "quantitative", "scale": {"domain": [0, 1800], "nice": false},
                     "axis": {"title": ["pNPCase activity", "(U/g intracellular protein)"], "titleFont": "Liberation Sans", "titleFontSize": 30, "titleFontWeight": "bold", "titleColor": "#000", "titleX": -159, "titleY": 203, "titleAlign": "center", "titleBaseline": "middle", "titleAngle": -90, "titleLineHeight": 31, "values": [0, 200, 400, 600, 800, 1000, 1200, 1400, 1600, 1800], "format": "d", "labelFont": "Liberation Sans", "labelFontSize": 24, "labelColor": "#000", "labelPadding": 26, "labelOverlap": false, "tickSize": 7, "tickWidth": 2.5, "tickColor": "#000", "domainColor": "#000", "domainWidth": 3, "grid": false}},
               "color": {"field": "s", "type": "nominal", "scale": {"domain": ["ΔTpKu70", "ΔTpRfx1", "CTpRfx1"], "range": ["#C00000", "#0070C0", "#70AD47"]},
                         "legend": {"title": null, "orient": "none", "legendX": 57, "legendY": 9, "direction": "vertical", "symbolType": "square", "symbolSize": 100, "symbolStrokeWidth": 0, "labelFont": "Liberation Sans", "labelFontSize": 26, "labelFontStyle": "italic", "labelColor": "#000", "labelOffset": 2, "rowPadding": 7, "padding": 0}}
             }},
            {"data": {"name": "bars"}, "transform": [{"filter": "datum.p === 'd'"}],
             "mark": {"type": "rule", "color": "#000", "strokeWidth": 2.5},
             "encoding": {"x": {"field": "day", "type": "ordinal"}, "xOffset": {"field": "s", "type": "nominal"}, "y": {"field": "lo", "type": "quantitative"}, "y2": {"field": "hi"}}},
            {"data": {"name": "bars"}, "transform": [{"filter": "datum.p === 'd'"}],
             "mark": {"type": "tick", "color": "#000", "thickness": 2.5, "size": 14, "orient": "horizontal"},
             "encoding": {"x": {"field": "day", "type": "ordinal"}, "xOffset": {"field": "s", "type": "nominal"}, "y": {"field": "lo", "type": "quantitative"}}},
            {"data": {"name": "bars"}, "transform": [{"filter": "datum.p === 'd'"}],
             "mark": {"type": "tick", "color": "#000", "thickness": 2.5, "size": 14, "orient": "horizontal"},
             "encoding": {"x": {"field": "day", "type": "ordinal"}, "xOffset": {"field": "s", "type": "nominal"}, "y": {"field": "hi", "type": "quantitative"}}},
            {"data": {"name": "brackets"}, "transform": [{"filter": "datum.p === 'd'"}],
             "mark": {"type": "line", "color": "#333", "strokeWidth": 2},
             "encoding": {"x": {"field": "day", "type": "ordinal"}, "xOffset": {"field": "s", "type": "nominal"}, "y": {"field": "y", "type": "quantitative"}, "detail": {"field": "id"}, "order": {"field": "o"}}},
            {"data": {"name": "stars"}, "transform": [{"filter": "datum.p === 'd'"}],
             "mark": {"type": "text", "dx": 29, "dy": -5, "fontSize": 34, "fontWeight": "bold", "font": "Liberation Sans", "color": "#111", "baseline": "alphabetic", "align": "center"},
             "encoding": {"x": {"field": "day", "type": "ordinal"}, "xOffset": {"field": "s", "type": "nominal"}, "y": {"field": "y", "type": "quantitative"}, "text": {"field": "t"}}}
          ]
        }
      ]
    }
  ]
}
